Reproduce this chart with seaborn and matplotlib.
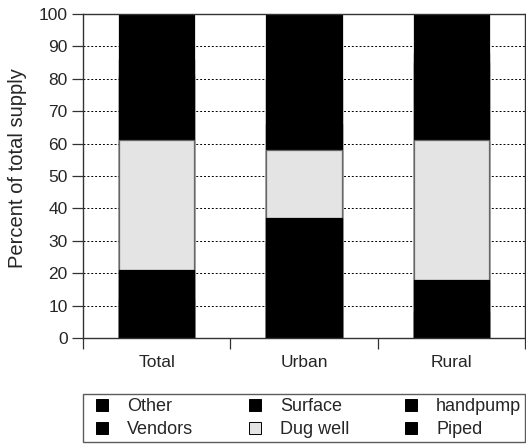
import numpy as np
import pandas as pd
import seaborn as sns
from matplotlib import pyplot as plt
from matplotlib.lines import Line2D

# categories and stack segments (bottom -> top)
areas = ["Total", "Urban", "Rural"]
piped = [12, 30, 8]
handpump = [9, 7, 10]
dug_well = [40, 21, 43]
surface = [20, 8, 24]
vendors = [5, 14, 3]
other = [14, 20, 12]

segments = ["Piped", "handpump", "Dug well", "Surface", "Vendors", "Other"]
colors = {"Piped": "black", "handpump": "black", "Dug well": "#e4e4e4",
          "Surface": "black", "Vendors": "black", "Other": "black"}

df = pd.DataFrame({"area": areas, "Piped": piped, "handpump": handpump,
                   "Dug well": dug_well, "Surface": surface,
                   "Vendors": vendors, "Other": other})

sns.set_style("white")
plt.rcParams["font.family"] = ["Liberation Sans", "DejaVu Sans"]

fig = plt.figure(figsize=(5.26, 4.45), dpi=100)
ax = fig.add_axes([0.158, 0.240, 0.840, 0.729])

# cumulative stack, drawn from the top down so lower layers sit in front
cum = df[segments].cumsum(axis=1)
for seg in segments[::-1]:
    edge = "#666666" if seg == "Dug well" else "black"
    sns.barplot(x=df["area"], y=cum[seg], color=colors[seg], width=0.51,
                edgecolor=edge, linewidth=0.9, saturation=1, ax=ax, zorder=2)

ax.set_ylim(0, 100)
ax.set_xlim(-0.5, 2.5)
ax.set_yticks(np.arange(0, 101, 10))
ax.set_ylabel("Percent of total supply", fontsize=14.5)
ax.yaxis.set_label_coords(-0.128, 0.523)
ax.set_xlabel("")
ax.yaxis.grid(True, linestyle=(0, (2, 2)), color="black", linewidth=0.7, zorder=0)
ax.set_axisbelow(True)

ax.tick_params(axis="y", direction="out", length=8, width=0.9, color="#333333",
               labelsize=12.5, pad=3, left=True)
ax.tick_params(axis="x", which="major", length=0, labelsize=12.5, pad=12)
ax.set_xticks([-0.5, 0.5, 1.5, 2.5], minor=True)
ax.tick_params(axis="x", which="minor", direction="out", length=8, width=0.9,
               color="#333333", bottom=True)

for s in ax.spines.values():
    s.set_color("#333333")
    s.set_linewidth(1.0)

handles = []
for seg in ["Other", "Vendors", "Surface", "Dug well", "handpump", "Piped"]:
    handles.append(Line2D([], [], marker="s", linestyle="", markersize=8.5,
                          markerfacecolor=colors[seg], markeredgecolor="black",
                          markeredgewidth=0.7, label=seg))
leg = fig.legend(handles=handles, ncol=3, loc="lower left",
                 bbox_to_anchor=(0.158, 0.007, 0.840, 0.121), mode="expand",
                 borderaxespad=0, fancybox=False, frameon=True, fontsize=13,
                 handlelength=1.7, handletextpad=0.55, labelspacing=0.35,
                 borderpad=0.2)
leg.get_frame().set_edgecolor("#333333")
leg.get_frame().set_linewidth(1.0)

fig.savefig("out.png", dpi=100)
